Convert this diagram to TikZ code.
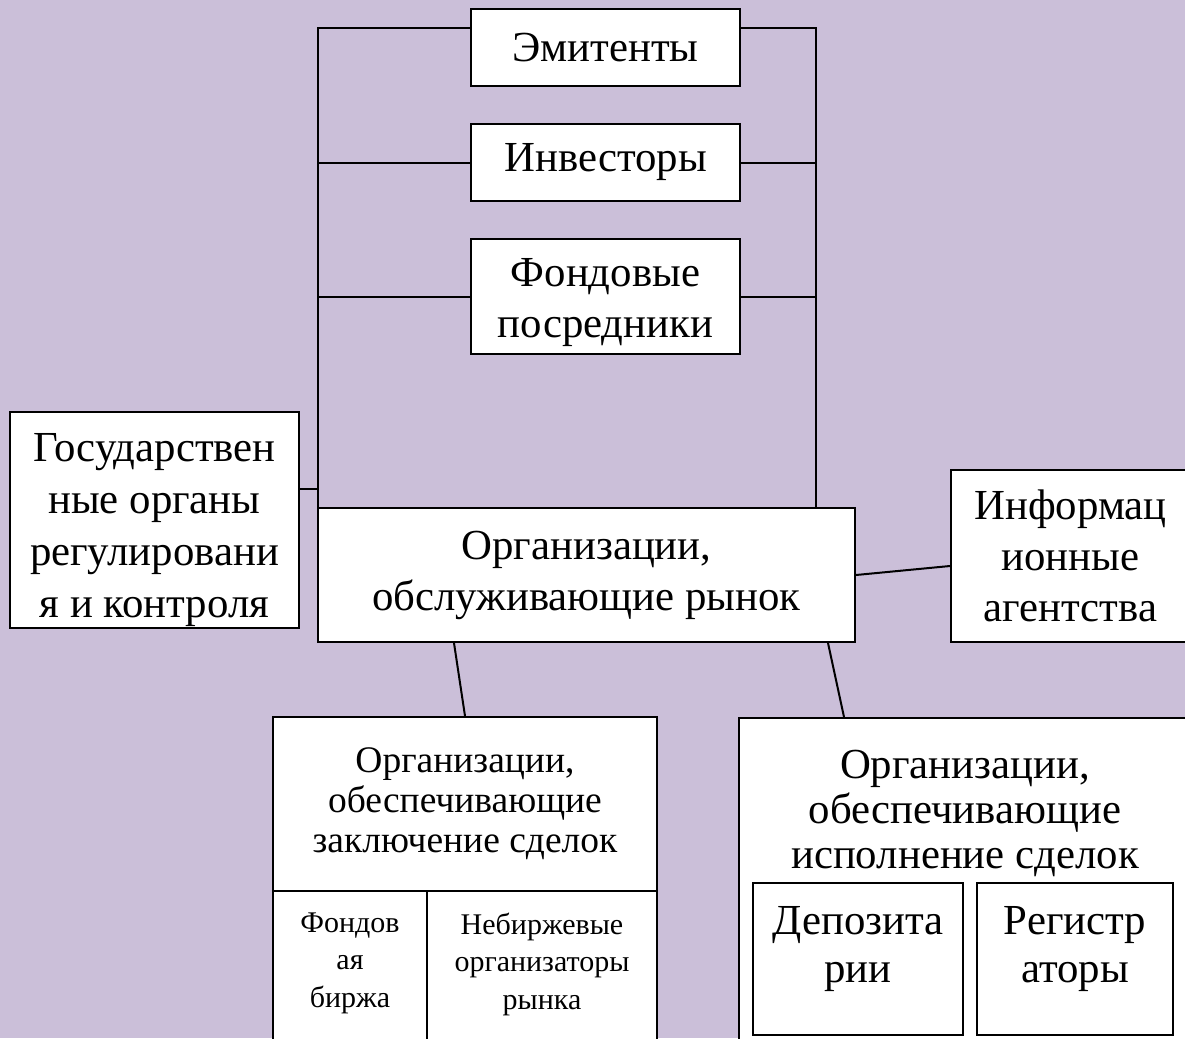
\documentclass[tikz,border=0pt]{standalone}
\usepackage{fontspec}
\setmainfont{Liberation Serif}
\definecolor{lav}{RGB}{203,191,217}
\newcommand\txtL{\fontsize{42.8}{51}\selectfont}
\newcommand\txtM{\fontsize{37.5}{40}\selectfont}
\newcommand\txtE{\fontsize{42.8}{45}\selectfont}
\newcommand\txtS{\fontsize{30}{37.5}\selectfont}
\begin{document}
\begin{tikzpicture}
[x=1pt, y=-1pt, box/.style={draw, fill=white, line width=2pt, align=center, inner sep=0pt, font=\txtL},
wire/.style={line width=2pt}, txt/.style={font=\txtL, align=center, inner sep=0pt}]
\clip (0,0) rectangle (1185,1038);
\fill[lav] (0,0) rectangle (1185,1038);
% participants
\node[box, minimum width=269, minimum height=77] (emit) at (605.5,47.5) {Эмитенты};
\node[box, minimum width=269, minimum height=77] (invest) at (605.5,162.5) {Инвесторы};
\node[box, minimum width=269, minimum height=115, label={[txt, yshift=-6pt]center:Фондовые\\посредники}] (fond) at (605.5,296.5) {};
\node[box, minimum width=289, minimum height=216, label={[txt, font=\fontsize{42.8}{52}\selectfont, yshift=-10pt]center:Государствен\\ные органы\\регулировани\\я и контроля}] (gos) at (154.5,520) {};
\node[box, minimum width=537, minimum height=134] (main) at (586.5,575) {Организации,\\обслуживающие рынок};
\node[box, minimum width=239, minimum height=172] (info) at (1070.5,556) {Информац\\ионные\\агентства};
% lower part
\node[box, font=\txtM, minimum width=384, minimum height=174] (deal) at (465,804) {Организации,\\обеспечивающие\\заключение сделок};
\node[box, minimum width=154, minimum height=159, label={[font=\txtS, align=center, anchor=north, yshift=-19pt]north:Фондов\\ая\\биржа}] (birzha) at (350,970.5) {};
\node[box, minimum width=230, minimum height=159, label={[font=\txtS, align=center, anchor=north, yshift=-19pt]north:Небиржевые\\организаторы\\рынка}] (otc) at (542,970.5) {};
\node[box, minimum width=452, minimum height=343, anchor=north west, label={[font=\txtE, align=center, anchor=north, yshift=-30pt]north:Организации,\\обеспечивающие\\исполнение сделок}] (exec) at (738,717) {};
\node[box, minimum width=210, minimum height=152, label={[font=\fontsize{42.8}{48}\selectfont, align=center, anchor=north, yshift=-21pt]north:Депозита\\рии}] (dep) at (858,959) {};
\node[box, minimum width=196, minimum height=152, label={[font=\fontsize{42.8}{48}\selectfont, align=center, anchor=north, yshift=-21pt]north:Регистр\\аторы}] (reg) at (1075,959) {};
% connectors
\coordinate (tl) at (318,28);
\coordinate (tr) at (816,28);
\coordinate (gosc) at (299,489);
\draw[wire] (tl -| emit.west) -- (tl) -- (tl |- main.north);
\draw[wire] (tr -| emit.east) -- (tr) -- (tr |- main.north);
\draw[wire] (invest.west) -- (invest.west -| tl);
\draw[wire] (invest.east) -- (invest.east -| tr);
\draw[wire] (fond.west) -- (fond.west -| tl);
\draw[wire] (fond.east) -- (fond.east -| tr);
\draw[wire] (gosc) -- (gosc -| main.west);
\draw[wire] (main.east) -- ([yshift=-10pt]info.west);
\draw[wire] ([xshift=-132.5pt]main.south) -- (deal.north);
\draw[wire] ([xshift=241.5pt]main.south) -- ([xshift=-121pt]exec.north);
\end{tikzpicture}
\end{document}
